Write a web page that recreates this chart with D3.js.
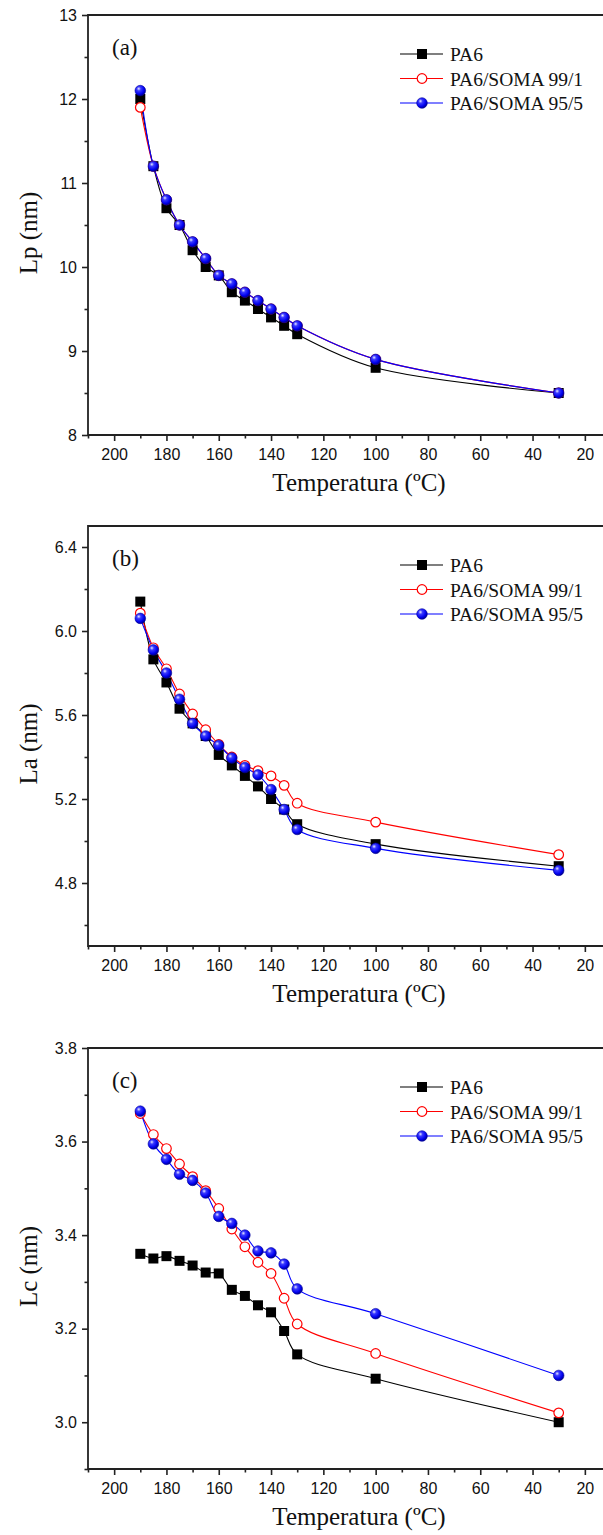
<!DOCTYPE html>
<html>
<head>
<meta charset="utf-8">
<script src="https://cdn.jsdelivr.net/npm/d3@7/dist/d3.min.js"></script>
<style>
html,body{margin:0;padding:0;background:#fff;}
svg{display:block;}
</style>
</head>
<body>
<svg id="chart" width="603" height="1535"></svg>
<script>
// ---------- data ----------
const temps = [190,185,180,175,170,165,160,155,150,145,140,135,130,100,30];
const seriesNames = ["PA6","PA6/SOMA 99/1","PA6/SOMA 95/5"];

const lpPA6     = [12.0,11.2,10.7,10.5,10.2,10.0,9.9,9.7,9.6,9.5,9.4,9.3,9.2,8.8,8.5];
const lpSoma991 = [11.9,11.2,10.8,10.5,10.3,10.1,9.9,9.8,9.7,9.6,9.5,9.4,9.3,8.9,8.5];
const lpSoma955 = [12.1,11.2,10.8,10.5,10.3,10.1,9.9,9.8,9.7,9.6,9.5,9.4,9.3,8.9,8.5];

const laPA6     = [6.14,5.865,5.755,5.63,5.56,5.50,5.41,5.36,5.31,5.26,5.20,5.15,5.08,4.985,4.88];
const laSoma991 = [6.085,5.92,5.82,5.70,5.605,5.53,5.46,5.40,5.36,5.335,5.31,5.265,5.18,5.09,4.935];
const laSoma955 = [6.06,5.91,5.80,5.675,5.56,5.50,5.455,5.395,5.35,5.315,5.245,5.15,5.055,4.965,4.86];

const lcPA6     = [3.36,3.35,3.355,3.345,3.335,3.32,3.318,3.283,3.27,3.25,3.235,3.195,3.145,3.093,3.0];
const lcSoma991 = [3.66,3.615,3.585,3.552,3.525,3.495,3.457,3.413,3.375,3.342,3.318,3.265,3.21,3.147,3.02];
const lcSoma955 = [3.665,3.595,3.562,3.53,3.517,3.49,3.44,3.425,3.40,3.366,3.362,3.338,3.285,3.232,3.10];

const xTickLabels = [200,180,160,140,120,100,80,60,40,20];
const xMinorTicks = [210,190,170,150,130,110,90,70,50,30,10];
const lpTicks = [8,9,10,11,12,13];
const lpMinor = [8.5,9.5,10.5,11.5,12.5];
const laTicks = [4.8,5.2,5.6,6.0,6.4];
const laMinor = [4.6,5.0,5.4,5.8,6.2];
const lcTicks = [3.0,3.2,3.4,3.6,3.8];
const lcMinor = [2.9,3.1,3.3,3.5,3.7];

const panelLabels = ["(a)","(b)","(c)"];
const yTitles = ["Lp (nm)","La (nm)","Lc (nm)"];
const xTitle = "Temperatura (\u00BAC)";

// ---------- layout ----------
const svg = d3.select("#chart");
const colors = ["#000000","#ff0000","#0000ff"];
const serif = "'Liberation Serif','Times New Roman',serif";
const sans = "'Liberation Sans',Arial,sans-serif";

const defs = svg.append("defs");
const grad = defs.append("radialGradient").attr("id","ball")
  .attr("cx","38%").attr("cy","35%").attr("r","65%").attr("fx","35%").attr("fy","32%");
grad.append("stop").attr("offset","0%").attr("stop-color","#e8e8ff");
grad.append("stop").attr("offset","30%").attr("stop-color","#3a3aff");
grad.append("stop").attr("offset","75%").attr("stop-color","#0000ee");
grad.append("stop").attr("offset","100%").attr("stop-color","#000090");

const x = d3.scaleLinear().domain([210,10]).range([88,611]);

const panels = [
  {top:15,   h:420, domain:[8,13],    ticks:lpTicks, minor:lpMinor, fmt:d3.format("d"),   data:[lpPA6,lpSoma991,lpSoma955]},
  {top:526,  h:420, domain:[4.5,6.5], ticks:laTicks, minor:laMinor, fmt:d3.format(".1f"), data:[laPA6,laSoma991,laSoma955]},
  {top:1048, h:421, domain:[2.9,3.8], ticks:lcTicks, minor:lcMinor, fmt:d3.format(".1f"), data:[lcPA6,lcSoma991,lcSoma955]}
];

function drawMarker(g, type, cx, cy){
  if(type===0){
    g.append("rect").attr("x",cx-5).attr("y",cy-5).attr("width",10).attr("height",10).attr("fill","#000");
  } else if(type===1){
    g.append("circle").attr("cx",cx).attr("cy",cy).attr("r",4.8)
      .attr("fill","#fff").attr("stroke","#ff0000").attr("stroke-width",1.2);
  } else {
    g.append("circle").attr("cx",cx).attr("cy",cy).attr("r",5.3)
      .attr("fill","url(#ball)").attr("stroke","#0000a0").attr("stroke-width",0.6);
  }
}

panels.forEach((p,i)=>{
  const g = svg.append("g");
  const y = d3.scaleLinear().domain(p.domain).range([p.top+p.h, p.top]);
  const bottom = p.top + p.h;

  // frame (right side falls outside the view)
  g.append("path")
    .attr("d",`M${x(10)},${p.top}H88V${bottom}H${x(10)}`)
    .attr("fill","none").attr("stroke","#222").attr("stroke-width",1.8);

  // y axis ticks
  const ya = g.append("g").attr("transform","translate(88,0)")
    .call(d3.axisLeft(y).tickValues(p.ticks).tickFormat(p.fmt).tickSize(6).tickPadding(5));
  ya.select(".domain").remove();
  ya.selectAll("line").attr("stroke","#222").attr("stroke-width",1.6);
  ya.selectAll("text").attr("font-family",sans).attr("font-size",16).attr("fill","#111");
  const ym = g.append("g").attr("transform","translate(88,0)")
    .call(d3.axisLeft(y).tickValues(p.minor).tickFormat("").tickSize(3.5));
  ym.select(".domain").remove();
  ym.selectAll("line").attr("stroke","#222").attr("stroke-width",1.6);

  // x axis ticks
  const xa = g.append("g").attr("transform",`translate(0,${bottom})`)
    .call(d3.axisBottom(x).tickValues(xTickLabels).tickFormat(d3.format("d")).tickSize(6).tickPadding(8));
  xa.select(".domain").remove();
  xa.selectAll("line").attr("stroke","#222").attr("stroke-width",1.6);
  xa.selectAll("text").attr("font-family",sans).attr("font-size",16).attr("fill","#111");
  const xm = g.append("g").attr("transform",`translate(0,${bottom})`)
    .call(d3.axisBottom(x).tickValues(xMinorTicks).tickFormat("").tickSize(3.5));
  xm.select(".domain").remove();
  xm.selectAll("line").attr("stroke","#222").attr("stroke-width",1.6);

  // titles
  g.append("text").attr("x",359).attr("y",bottom+56).attr("text-anchor","middle")
    .attr("font-family",serif).attr("font-size",25).attr("fill","#111").text(xTitle);
  g.append("text").attr("transform",`translate(37,${p.top+p.h/2+8}) rotate(-90)`)
    .attr("text-anchor","middle").attr("font-family",serif).attr("font-size",25).attr("fill","#111")
    .text(yTitles[i]);
  g.append("text").attr("x",112).attr("y",p.top+40)
    .attr("font-family",serif).attr("font-size",23).attr("fill","#111").text(panelLabels[i]);

  // series lines
  const line = d3.line().x(d=>x(d[0])).y(d=>y(d[1])).curve(d3.curveCatmullRom.alpha(0.5));
  p.data.forEach((vals,s)=>{
    const pts = temps.map((t,k)=>[t,vals[k]]);
    g.append("path").attr("d",line(pts)).attr("fill","none")
      .attr("stroke",colors[s]).attr("stroke-width",1.1);
  });
  // markers
  p.data.forEach((vals,s)=>{
    const mg = g.append("g");
    temps.forEach((t,k)=>drawMarker(mg,s,x(t),y(vals[k])));
  });

  // legend
  const lg = g.append("g");
  seriesNames.forEach((name,s)=>{
    const ly = p.top + 39 + s*24.5;
    lg.append("line").attr("x1",400).attr("x2",443).attr("y1",ly).attr("y2",ly)
      .attr("stroke",colors[s]).attr("stroke-width",1.2);
    drawMarker(lg,s,422,ly);
    lg.append("text").attr("x",450).attr("y",ly+7).attr("font-family",serif)
      .attr("font-size",19.5).attr("fill","#111").text(name);
  });
});
</script>
</body>
</html>
